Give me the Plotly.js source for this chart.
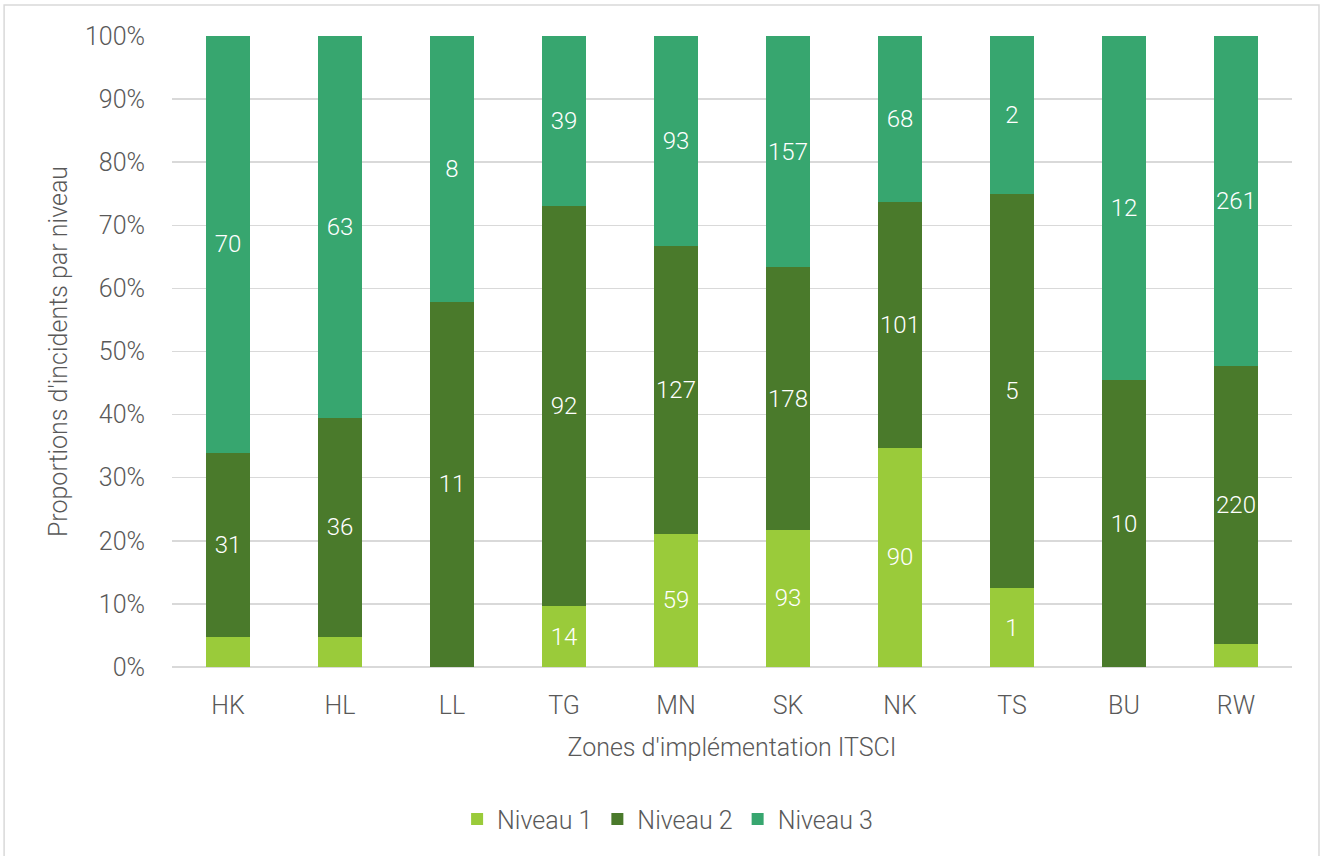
<!DOCTYPE html>
<html>
<head>
<meta charset="utf-8">
<script src="https://cdn.plot.ly/plotly-3.0.1.min.js"></script>
<style>html,body{margin:0;padding:0;background:#fff;}#chart{width:1323px;height:856px;}</style>
</head>
<body>
<div id="chart"></div>
<script>
const zones = ['HK','HL','LL','TG','MN','SK','NK','TS','BU','RW'];
const niveau1 = [5, 5, 0, 14, 59, 93, 90, 1, 0, 18];
const niveau2 = [31, 36, 11, 92, 127, 178, 101, 5, 10, 220];
const niveau3 = [70, 63, 8, 39, 93, 157, 68, 2, 12, 261];
const seriesNames = ['Niveau 1', 'Niveau 2', 'Niveau 3'];
const seriesColors = ['#9ACB3A', '#4A7A2B', '#37A66F'];

const totals = zones.map((z, i) => niveau1[i] + niveau2[i] + niveau3[i]);
function labels(vals) {
  return vals.map((v, i) => (v / totals[i] >= 0.05 ? String(v) : ''));
}

const font = 'Roboto, "Open Sans", sans-serif';
const gray = '#595959';
const fs = 25;

const traces = [niveau1, niveau2, niveau3].map((vals, k) => ({
  type: 'bar',
  name: seriesNames[k],
  x: zones,
  y: vals,
  text: labels(vals),
  textposition: 'inside',
  insidetextanchor: 'middle',
  textangle: 0,
  textfont: {family: font, size: 24, color: '#ffffff', weight: 300},
  marker: {color: seriesColors[k], line: {width: 0}},
  hoverinfo: 'x+y+name'
}));

const layout = {
  width: 1323,
  height: 856,
  barmode: 'stack',
  barnorm: 'percent',
  bargap: 0.6,
  paper_bgcolor: '#ffffff',
  plot_bgcolor: '#ffffff',
  margin: {l: 172, r: 31, t: 36, b: 189},
  font: {family: font, size: fs, color: gray, weight: 300},
  uniformtext: {mode: 'show', minsize: 24},
  xaxis: {
    type: 'category',
    showgrid: false,
    showline: false,
    ticks: '',
    ticklabelstandoff: 21,
    tickfont: {family: font, size: fs, color: gray, weight: 300},
    title: {text: "Zones d'implémentation ITSCI", font: {family: font, size: fs, color: gray, weight: 300}, standoff: 19}
  },
  yaxis: {
    range: [0, 100],
    dtick: 10,
    ticksuffix: '%',
    showgrid: true,
    gridcolor: '#D9D9D9',
    gridwidth: 1.5,
    zeroline: true,
    zerolinecolor: '#D9D9D9',
    zerolinewidth: 1.5,
    showline: false,
    ticks: '',
    ticklen: 0,
    ticklabelstandoff: 26,
    tickfont: {family: font, size: fs, color: gray, weight: 300},
    automargin: false,
    title: {text: "Proportions d'incidents par niveau", font: {family: font, size: fs, color: gray, weight: 300}, standoff: 10}
  },
  legend: {
    orientation: 'h',
    x: 0.4425,
    xanchor: 'center',
    y: -0.205,
    yanchor: 'top',
    font: {family: font, size: fs, color: gray, weight: 300},
    itemwidth: 30,
    traceorder: 'normal'
  },
  shapes: [{
    type: 'rect', xref: 'paper', yref: 'paper',
    x0: -0.1499, x1: 1.0241, y0: -0.31, y1: 1.0491,
    line: {color: '#D9D9D9', width: 1.5}, fillcolor: 'rgba(0,0,0,0)', layer: 'below'
  }],
  showlegend: true
};

Plotly.newPlot('chart', traces, layout, {displayModeBar: false, staticPlot: true});
</script>
</body>
</html>
